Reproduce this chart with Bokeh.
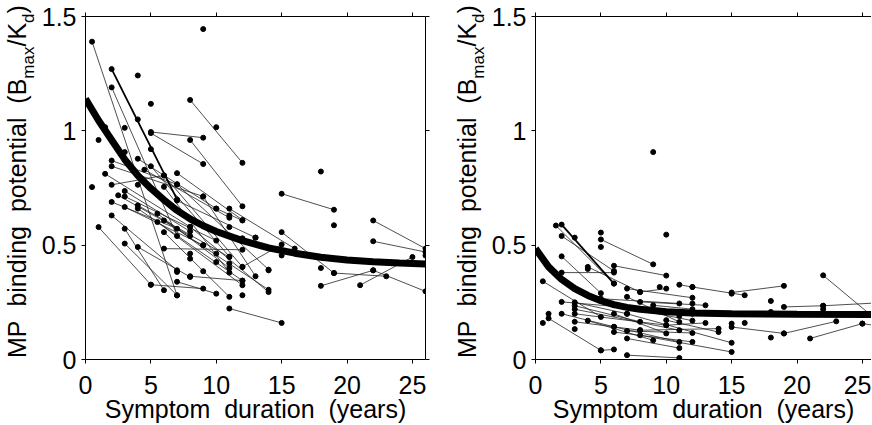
from bokeh.plotting import figure
from bokeh.models import Range1d, FixedTicker, LinearAxis, Div
from bokeh.layouts import row
from bokeh.embed import file_html
from bokeh.resources import INLINE

# ---------------- data ----------------
x_ticks = [0, 5, 10, 15, 20, 25]
y_ticks = [0, 0.5, 1, 1.5]
y_tick_labels = {0: "0", 0.5: "0.5", 1: "1", 1.5: "1.5"}
NB = "\u00a0"
x_title = f"Symptom {NB}duration {NB}(years)"
# y title: "MP binding potential (B_max / K_d)"
y_title_main = "MP&nbsp; binding&nbsp; potential&nbsp; (B"
y_title_sub1 = "max"
y_title_mid = "/K"
y_title_sub2 = "d"
y_title_end = ")"

# left panel: fitted curve
left_curve_x = [0, 1, 2, 3, 4, 5, 6, 7, 8, 9, 10, 12, 14, 16, 18, 20, 22, 24, 26]
left_curve_y = [1.14, 1.045, 0.96, 0.875, 0.805, 0.748, 0.698, 0.652, 0.615, 0.585,
                0.56, 0.52, 0.488, 0.465, 0.447, 0.435, 0.427, 0.422, 0.418]

# left panel: paired scans (start -> end)
left_x0 = [0.5, 2, 8, 5, 5, 8, 2, 2, 2, 1.5, 4, 4.5, 5, 6, 7, 7, 3, 2.5, 3, 2, 3, 4, 4,
           2, 1, 3, 3, 4, 6, 5, 7, 11, 5.5, 5.5, 6, 6, 7, 8, 9, 10, 6, 8, 12, 15, 15, 18,
           19, 22, 21, 22, 22, 11]
left_y0 = [1.39, 1.19, 1.135, 0.995, 0.99, 0.96, 0.87, 0.845, 0.764, 0.812, 0.878,
           0.83, 0.845, 0.805, 0.815, 0.766, 0.737, 0.718, 0.713, 0.689, 0.667, 0.674,
           0.66, 0.63, 0.579, 0.572, 0.507, 0.492, 0.485, 0.327, 0.34, 0.223, 0.638,
           0.601, 0.608, 0.557, 0.695, 0.58, 0.713, 0.66, 0.755, 0.364, 0.405, 0.725,
           0.557, 0.322, 0.378, 0.39, 0.325, 0.608, 0.517, 0.66]
left_x1 = [7, 7, 12, 9, 9, 12, 7, 9, 6, 8, 10, 11, 11, 12, 12, 14, 8, 8, 10, 7, 9, 11,
           12, 7, 5, 6, 7, 8, 12, 9, 10, 15, 11, 12, 14, 11, 13, 14, 13, 12, 11, 12, 15,
           19, 19, 22, 23, 26, 25, 26, 26, 16]
left_y1 = [0.28, 0.54, 0.86, 0.97, 0.855, 0.67, 0.766, 0.713, 0.805, 0.58, 0.66,
           0.62, 0.45, 0.405, 0.61, 0.393, 0.56, 0.54, 0.52, 0.572, 0.50, 0.448, 0.345,
           0.39, 0.327, 0.303, 0.281, 0.361, 0.48, 0.31, 0.288, 0.16, 0.40, 0.325, 0.305,
           0.274, 0.533, 0.295, 0.364, 0.608, 0.38, 0.345, 0.503, 0.655, 0.378, 0.39,
           0.364, 0.298, 0.448, 0.485, 0.47, 0.485]
# left panel: the one pair drawn with a heavier line
left_bold_x0 = [2]
left_bold_y0 = [1.27]
left_bold_x1 = [7]
left_bold_y1 = [0.70]

# left panel: single scans
left_px = [9, 4, 5, 4, 3, 1.5, 1, 10, 0.5, 3, 5, 4, 18, 19, 18, 15, 11, 8, 9, 10, 7, 26,
           12, 11, 8, 12, 9, 11, 10, 14, 13]
left_py = [1.445, 1.242, 1.118, 1.05, 1.013, 1.016, 0.96, 1.016, 0.754, 0.907, 0.92,
           0.764, 0.822, 0.587, 0.40, 0.455, 0.579, 0.441, 0.386, 0.463, 0.383, 0.455,
           0.281, 0.63, 0.463, 0.53, 0.50, 0.42, 0.426, 0.39, 0.533]

# right panel: fitted curve
right_curve_x = [0, 1, 2, 3, 4, 5, 6, 7, 8, 10, 12, 15, 20, 26]
right_curve_y = [0.485, 0.405, 0.35, 0.31, 0.28, 0.257, 0.24, 0.228, 0.22, 0.209,
                 0.203, 0.2, 0.198, 0.197]

# right panel: paired scans (start -> end)
right_x0 = [1.56, 2, 5, 6, 2, 0.56, 5, 7, 11, 12, 15, 22, 19, 22, 19, 21, 25, 15, 3, 3,
            3, 3, 3, 2, 2, 1, 4, 5, 6, 6, 6, 6, 7, 7, 7, 7, 7, 8, 8, 8, 8, 9, 10, 10, 4, 2]
right_y0 = [0.586, 0.54, 0.525, 0.41, 0.38, 0.342, 0.04, 0.019, 0.327, 0.317,
            0.293, 0.368, 0.23, 0.235, 0.114, 0.092, 0.157, 0.142, 0.25, 0.235, 0.22,
            0.2, 0.165, 0.252, 0.2, 0.18, 0.17, 0.266, 0.237, 0.2, 0.143, 0.12, 0.31,
            0.274, 0.2, 0.125, 0.092, 0.295, 0.252, 0.128, 0.106, 0.237, 0.172, 0.15,
            0.405, 0.451]
right_x1 = [6, 6, 9, 10, 6, 5, 6, 11, 12, 16, 19, 27, 22, 27, 23, 25, 27, 19, 7, 8, 11,
            10, 8, 11, 6, 5, 9, 11, 12, 10, 11, 12, 12, 11, 15, 12, 11, 10, 13, 14, 15,
            12, 14, 13, 8, 5]
right_y1 = [0.332, 0.387, 0.416, 0.367, 0.38, 0.186, 0.044, 0.007, 0.317, 0.281,
            0.322, 0.13, 0.235, 0.25, 0.167, 0.157, 0.14, 0.114, 0.2, 0.165, 0.128, 0.15,
            0.128, 0.208, 0.143, 0.04, 0.084, 0.245, 0.17, 0.114, 0.077, 0.077, 0.27,
            0.164, 0.073, 0.116, 0.05, 0.31, 0.237, 0.135, 0.033, 0.22, 0.12, 0.16, 0.295,
            0.29]
right_bold_x0 = [2]
right_bold_y0 = [0.59]
right_bold_x1 = [6]
right_bold_y1 = [0.332]

# right panel: single scans
right_px = [9, 10, 5, 5, 3, 0.56, 1, 3, 4, 9.5, 11, 12, 18, 18, 18, 16, 15, 22, 12, 11, 15]
right_py = [0.907, 0.546, 0.555, 0.492, 0.533, 0.16, 0.2, 0.133, 0.396, 0.317, 0.208,
            0.245, 0.256, 0.208, 0.096, 0.16, 0.157, 0.22, 0.2, 0.19, 0.288]

# ---------------- styling / layout ----------------
FONT = "Liberation Sans"
FIG_H = 425
TOP = 16
BOTTOM = 66
BORDER_L = 44
FRAME = 343  # px for 26 years and for 1.5 units
PX_PER_YEAR = FRAME / 26.0


def style_axis(ax, ticks):
    ax.ticker = FixedTicker(ticks=ticks)
    ax.major_tick_in = 0
    ax.major_tick_out = 4
    ax.minor_tick_in = 0
    ax.minor_tick_out = 0
    ax.axis_line_color = "black"
    ax.major_tick_line_color = "black"


def blank_axis(ticks):
    ax = LinearAxis()
    style_axis(ax, ticks)
    ax.major_label_overrides = {t: "" for t in ticks}
    ax.major_label_text_font_size = "1px"
    ax.major_label_text_color = None
    ax.major_label_standoff = 0
    return ax


def make_panel(width, frame_w, x_end, with_right, cx, cy, x0, y0, x1, y1,
               bx0, by0, bx1, by1, px, py):
    p = figure(width=width, height=FIG_H, output_backend="svg", toolbar_location=None,
               x_range=Range1d(0, x_end), y_range=Range1d(0, 1.5),
               min_border_left=BORDER_L, min_border_right=width - BORDER_L - frame_w,
               min_border_top=TOP, min_border_bottom=BOTTOM)
    p.grid.visible = False
    p.outline_line_color = None
    xa = p.xaxis[0]
    ya = p.yaxis[0]
    style_axis(xa, x_ticks)
    style_axis(ya, y_ticks)
    ya.major_label_overrides = y_tick_labels
    for ax in (xa, ya):
        ax.major_label_text_font = FONT
        ax.major_label_text_font_size = "25px"
        ax.major_label_text_color = "black"
    xa.major_label_standoff = 12
    ya.major_label_standoff = 5
    xa.axis_label = x_title
    xa.axis_label_text_font = FONT
    xa.axis_label_text_font_size = "25px"
    xa.axis_label_text_font_style = "normal"
    xa.axis_label_text_color = "black"
    xa.axis_label_standoff = -2
    p.add_layout(blank_axis(x_ticks), "above")
    if with_right:
        p.add_layout(blank_axis(y_ticks), "right")
    p.segment(x0=x0, y0=y0, x1=x1, y1=y1, line_color="#222222", line_width=0.8)
    p.segment(x0=bx0, y0=by0, x1=bx1, y1=by1, line_color="black", line_width=1.8)
    p.scatter(x0 + x1 + bx0 + bx1 + px, y0 + y1 + by0 + by1 + py, size=5, color="black")
    p.line(cx, cy, line_color="black", line_width=7)
    return p


def title_div(width, baseline_x):
    # rotated y-axis title (reads bottom to top) with real subscripts
    left = baseline_x - 22.6   # 25px font, 28px line box: baseline sits 22.6px below its top
    start = 358                # bottom end of the title
    sub = "font-size:17px; position:relative; top:8px;"
    html = (
        f'<div style="width:max-content; white-space:nowrap; font-family:\'{FONT}\'; '
        f'font-size:25px; line-height:28px; color:black; transform-origin:0 0; '
        f'transform:translate({left}px,{start}px) rotate(-90deg);">'
        f'{y_title_main}<span style="{sub}">{y_title_sub1}</span>{y_title_mid}'
        f'<span style="{sub}">{y_title_sub2}</span>{y_title_end}</div>'
    )
    return Div(text=html, width=width, height=FIG_H, margin=0)


# layout: [title][left panel][title][right panel]
t1 = title_div(38, 26)
p1 = make_panel(BORDER_L + FRAME + 10, FRAME, 26, True, left_curve_x, left_curve_y,
                left_x0, left_y0, left_x1, left_y1,
                left_bold_x0, left_bold_y0, left_bold_x1, left_bold_y1, left_px, left_py)
t2 = title_div(53, 41)
p2 = make_panel(BORDER_L + 339, 339, 339 / PX_PER_YEAR, False, right_curve_x, right_curve_y,
                right_x0, right_y0, right_x1, right_y1,
                right_bold_x0, right_bold_y0, right_bold_x1, right_bold_y1, right_px, right_py)

layout = row(t1, p1, t2, p2)
open("out.html", "w").write(file_html(layout, INLINE))
